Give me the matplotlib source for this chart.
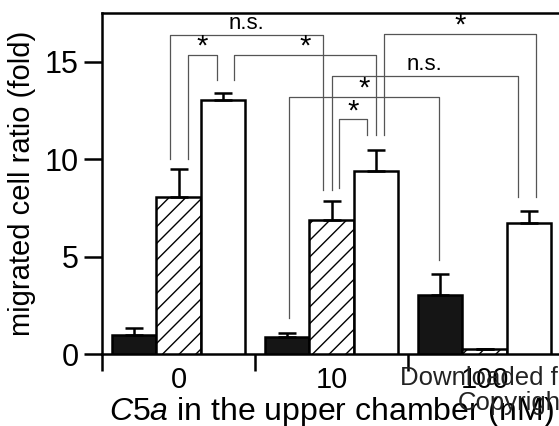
import matplotlib
matplotlib.use("Agg")
import matplotlib.pyplot as plt
import numpy as np

plt.rcParams['font.family'] = ['Liberation Sans', 'DejaVu Sans']
plt.rcParams['mathtext.fontset'] = 'custom'
plt.rcParams['mathtext.it'] = 'Liberation Sans:italic'
plt.rcParams['mathtext.rm'] = 'Liberation Sans'
plt.rcParams['hatch.linewidth'] = 1.0

# data
groups = ['0', '10', '100']
black_vals = [1.0, 0.85, 3.03]
black_err = [0.32, 0.25, 1.07]
hatch_vals = [8.04, 6.9, 0.26]
hatch_err = [1.43, 0.93, 0.0]
white_vals = [13.06, 9.38, 6.7]
white_err = [0.35, 1.08, 0.65]

# significance brackets: (x_left, y_left, x_right, y_right, y_top, label)
brackets = [
    (-0.054, 10.0, 0.943, 8.41, 16.36, 'n.s.'),
    (0.059, 10.0, 0.25, 14.05, 15.37, '*'),
    (0.36, 14.05, 1.292, 11.23, 15.37, '*'),
    (1.346, 11.23, 2.338, 8.07, 16.44, '*'),
    (1.002, 8.41, 2.218, 8.07, 14.26, 'n.s.'),
    (0.724, 1.85, 1.70, 4.82, 13.18, '*'),
    (1.05, 8.51, 1.23, 11.23, 12.04, '*'),
]

fig = plt.figure(figsize=(5.59, 4.26), dpi=100)
ax = fig.add_axes([102 / 559, 72 / 426, 459 / 559, 341 / 426])

x = np.arange(len(groups))
w = 0.29
ekw = dict(elinewidth=1.8, capthick=1.8, ecolor='black')
ax.bar(x - w, black_vals, w, color='#151515', edgecolor='black', linewidth=1.8,
       yerr=[np.zeros(3), black_err], capsize=6.5, error_kw=ekw, zorder=3)
ax.bar(x, hatch_vals, w, color='white', edgecolor='black', linewidth=1.8, hatch='//',
       yerr=[np.zeros(3), hatch_err], capsize=6.5, error_kw=ekw, zorder=3)
ax.bar(x + w, white_vals, w, color='white', edgecolor='black', linewidth=1.8,
       yerr=[np.zeros(3), white_err], capsize=6.5, error_kw=ekw, zorder=3)

for xl, yl, xr, yr, yt, lab in brackets:
    ax.plot([xl, xl, xr, xr], [yl, yt, yt, yr], color='#555555', lw=0.9,
            zorder=2, clip_on=False)
    if lab == '*':
        ax.text((xl + xr) / 2, yt - 0.3, lab, ha='center', va='bottom', fontsize=21)
    else:
        ax.text((xl + xr) / 2, yt + 0.05, lab, ha='center', va='bottom', fontsize=16)

ax.set_xlim(-0.5, 2.5)
ax.set_ylim(0, 17.5)
ax.set_yticks([0, 5, 10, 15])
ax.set_xticks([-0.5, 0.5, 1.5])
ax.set_xticklabels([])
for xi, g in zip(x, groups):
    ax.text(xi, -0.6, g, ha='center', va='top', fontsize=21)

ax.tick_params(axis='y', direction='out', length=13, width=1.8, labelsize=22, pad=4)
ax.tick_params(axis='x', direction='out', length=12, width=1.8)
for s in ['left', 'top', 'bottom']:
    ax.spines[s].set_linewidth(1.8)
ax.spines['right'].set_visible(False)

ax.set_ylabel('migrated cell ratio (fold)', fontsize=21, labelpad=6)
ax.set_xlabel(r'$\mathit{C5a}$ in the upper chamber (nM)', fontsize=23, labelpad=14)

fig.text(400 / 559, 1 - 385 / 426, 'Downloaded f', fontsize=18.5, color='#222222',
         ha='left', va='baseline')
fig.text(458 / 559, 1 - 410 / 426, 'Copyright', fontsize=18.5, color='#222222',
         ha='left', va='baseline')

fig.savefig('out.png', dpi=100)
